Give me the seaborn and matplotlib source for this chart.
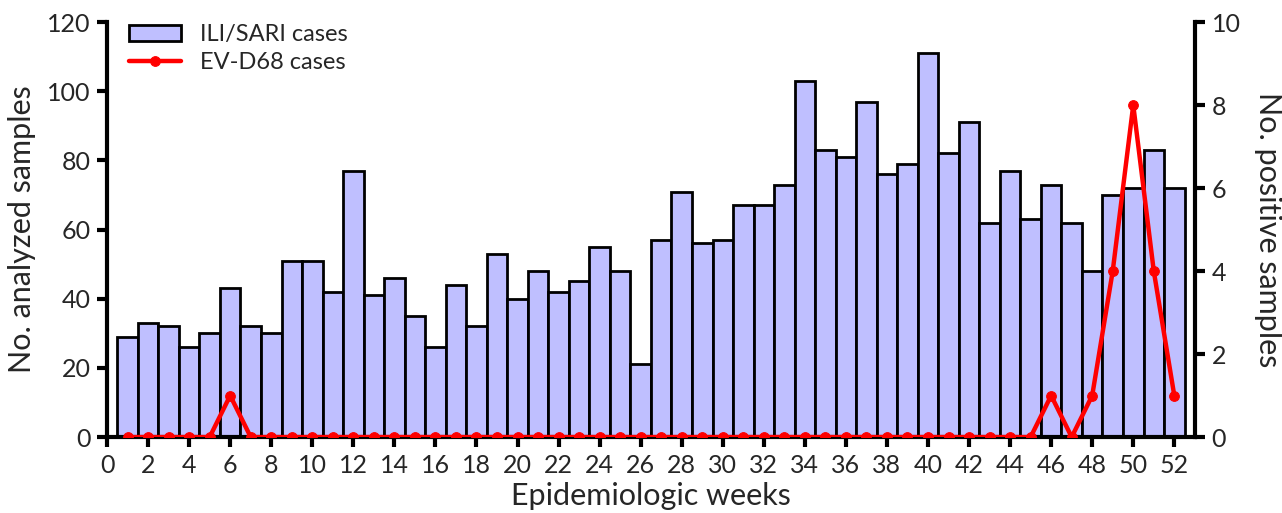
import matplotlib
matplotlib.use("Agg")
import matplotlib.pyplot as plt
import seaborn as sns
import numpy as np
import pandas as pd

weeks = list(range(1, 53))
ili_sari = [29, 33, 32, 26, 30, 43, 32, 30, 51, 51, 42, 77, 41, 46, 35, 26,
            44, 32, 53, 40, 48, 42, 45, 55, 48, 21, 57, 71, 56, 57, 67, 67,
            73, 103, 83, 81, 97, 76, 79, 111, 82, 91, 62, 77, 63, 73, 62, 48,
            70, 72, 83, 72]
evd68 = [0, 0, 0, 0, 0, 1, 0, 0, 0, 0, 0, 0, 0, 0, 0, 0,
         0, 0, 0, 0, 0, 0, 0, 0, 0, 0, 0, 0, 0, 0, 0, 0,
         0, 0, 0, 0, 0, 0, 0, 0, 0, 0, 0, 0, 0, 1, 0, 1,
         4, 8, 4, 1]

df = pd.DataFrame({"week": weeks, "ili": ili_sari, "ev": evd68})

sns.set_style("white")
plt.rcParams['font.family'] = ['Lato', 'DejaVu Sans']

fig = plt.figure(figsize=(12.82, 5.13), dpi=100)
ax = fig.add_axes([0.0835, 0.148, 0.8485, 0.809])

sns.barplot(data=df, x="week", y="ili", native_scale=True, width=1.0,
            color="#BFBFFF", edgecolor="black", linewidth=2, saturation=1,
            ax=ax, label="ILI/SARI cases")

ax2 = ax.twinx()
sns.lineplot(data=df, x="week", y="ev", color="red", linewidth=3.2,
             marker="o", markersize=7, markeredgecolor="red",
             ax=ax2, label="EV-D68 cases", legend=False)

ax.set_xlim(0, 53)
ax.set_ylim(0, 120)
ax2.set_ylim(0, 10)
ax.set_xticks(range(0, 53, 2))
ax.set_yticks(range(0, 121, 20))
ax2.set_yticks(range(0, 11, 2))

for a in (ax, ax2):
    for s in a.spines.values():
        s.set_linewidth(3)
        s.set_color("black")
    a.spines["top"].set_visible(False)
ax.spines["right"].set_visible(False)
ax2.spines["left"].set_visible(False)
ax2.spines["bottom"].set_visible(False)

ax.tick_params(axis="both", which="major", direction="out", length=7, width=3,
               labelsize=18, color="black", bottom=True, left=True, pad=5)
ax2.tick_params(axis="y", direction="out", length=7, width=3, labelsize=18,
                color="black", right=True, pad=5)

ax.set_xlabel("Epidemiologic weeks", fontsize=22, labelpad=4)
ax.set_ylabel("No. analyzed samples", fontsize=22, labelpad=8)
ax2.set_ylabel("No. positive samples", fontsize=22, rotation=270, labelpad=30)

h1, l1 = ax.get_legend_handles_labels()
h2, l2 = ax2.get_legend_handles_labels()
ax.legend(h1 + h2, l1 + l2, loc="upper left", bbox_to_anchor=(0.005, 1.035),
          frameon=False, fontsize=17, handlelength=2.2, borderaxespad=0.3,
          labelspacing=0.3)

ax.set_zorder(1)
ax2.set_zorder(2)
ax2.patch.set_visible(False)

fig.savefig("out.png", dpi=100)
